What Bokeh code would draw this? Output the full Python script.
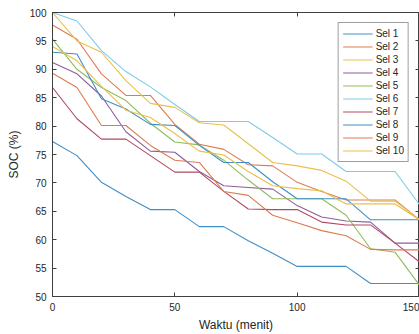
from bokeh.plotting import figure
from bokeh.models import LinearAxis, FixedTicker, Range1d
from bokeh.embed import file_html
from bokeh.resources import INLINE

waktu = [0, 10, 20, 30, 40, 50, 60, 70, 80, 90, 100, 110, 120, 130, 140, 150]

sel1 = [77.3, 74.8, 70.1, 67.6, 65.3, 65.3, 62.3, 62.3, 59.8, 57.6, 55.3, 55.3, 55.3, 52.3, 52.3, 52.3]
sel2 = [97.8, 95.3, 89.2, 85.4, 85.4, 80.3, 76.8, 75.9, 73.2, 73.0, 70.1, 68.5, 67.0, 67.0, 67.0, 63.5]
sel3 = [100.0, 95.0, 93.0, 88.0, 84.0, 83.3, 80.6, 80.2, 76.9, 73.6, 73.0, 72.2, 70.3, 66.8, 66.8, 63.5]
sel4 = [91.2, 89.2, 85.3, 79.0, 75.6, 75.4, 72.0, 69.5, 69.2, 68.9, 66.0, 64.0, 63.3, 63.1, 59.4, 59.4]
sel5 = [95.3, 90.0, 86.8, 84.5, 80.5, 77.2, 76.7, 74.0, 70.5, 67.2, 67.2, 67.2, 64.3, 58.4, 57.8, 52.0]
sel6 = [100.0, 98.5, 93.3, 89.6, 86.9, 83.8, 80.8, 80.8, 80.8, 78.0, 75.1, 75.1, 72.0, 72.0, 72.0, 66.2]
sel7 = [86.8, 81.3, 77.7, 77.7, 74.8, 71.9, 71.9, 68.5, 65.4, 65.3, 65.3, 63.1, 62.6, 62.6, 59.4, 56.1]
sel8 = [93.0, 92.7, 84.8, 83.0, 80.3, 80.1, 76.6, 73.6, 73.6, 70.2, 67.2, 67.2, 67.2, 63.5, 63.5, 63.5]
sel9 = [89.3, 86.8, 80.1, 80.1, 76.6, 74.0, 73.6, 68.5, 67.8, 64.3, 63.0, 61.6, 60.7, 58.3, 58.2, 58.2]
sel10 = [94.0, 91.5, 87.0, 82.8, 81.5, 78.7, 75.6, 74.9, 72.0, 69.5, 69.0, 68.6, 66.3, 66.3, 66.3, 63.5]

names = ["Sel 1", "Sel 2", "Sel 3", "Sel 4", "Sel 5", "Sel 6", "Sel 7", "Sel 8", "Sel 9", "Sel 10"]
series = [sel1, sel2, sel3, sel4, sel5, sel6, sel7, sel8, sel9, sel10]
colors = ["#3f8fc6", "#dc7c52", "#eabf4c", "#8f5c9c", "#8fbd5a",
          "#7fcbea", "#b04a63", "#3f8fc6", "#dc7c52", "#eabf4c"]

x_ticks = [0, 50, 100, 150]
y_ticks = [50, 55, 60, 65, 70, 75, 80, 85, 90, 95, 100]

FONT = "Liberation Sans"
AX = "#404040"

p = figure(width=419, height=334, output_backend="svg", toolbar_location=None,
           x_range=Range1d(0, 150), y_range=Range1d(50, 100),
           min_border_left=52, min_border_right=0, min_border_top=12, min_border_bottom=36)
p.background_fill_color = "white"
p.border_fill_color = "white"
p.outline_line_color = AX
p.outline_line_width = 1
p.xgrid.visible = False
p.ygrid.visible = False

for nm, ys, c in zip(names, series, colors):
    p.line(waktu, ys, line_color=c, line_width=1.1, legend_label=nm)

def style(ax, labels=True):
    ax.axis_line_color = AX
    ax.major_tick_line_color = AX
    ax.major_tick_in = 4
    ax.major_tick_out = 0
    ax.minor_tick_line_color = None
    ax.major_label_text_font = FONT
    ax.major_label_text_font_size = "10px"
    ax.major_label_text_color = "#262626"
    ax.axis_label_text_font = FONT
    ax.axis_label_text_font_size = "12px"
    ax.axis_label_text_font_style = "normal"
    ax.axis_label_text_color = "#262626"
    if not labels:
        ax.major_label_text_color = None
        ax.major_label_text_font_size = "0px"
        ax.major_label_standoff = 0

p.xaxis.ticker = FixedTicker(ticks=x_ticks)
p.yaxis.ticker = FixedTicker(ticks=y_ticks)
p.xaxis.axis_label = "Waktu (menit)"
p.yaxis.axis_label = "SOC (%)"
style(p.xaxis[0])
style(p.yaxis[0])
p.xaxis.major_label_standoff = 6
p.yaxis.major_label_standoff = 6
p.xaxis.axis_label_standoff = 4
p.yaxis.axis_label_standoff = 6

top_ax = LinearAxis(ticker=FixedTicker(ticks=x_ticks))
style(top_ax, labels=False)
right_ax = LinearAxis(ticker=FixedTicker(ticks=y_ticks))
style(right_ax, labels=False)
p.add_layout(top_ax, "above")
p.add_layout(right_ax, "right")

lg = p.legend[0]
lg.location = "top_right"
lg.margin = 10
lg.padding = 4
lg.spacing = 0
lg.glyph_width = 30
lg.glyph_height = 13
lg.label_height = 13
lg.label_standoff = 3
lg.label_text_font = FONT
lg.label_text_font_size = "10px"
lg.label_text_color = "#262626"
lg.border_line_color = AX
lg.border_line_width = 1
lg.background_fill_color = "white"
lg.background_fill_alpha = 1

open("out.html", "w").write(file_html(p, INLINE))
